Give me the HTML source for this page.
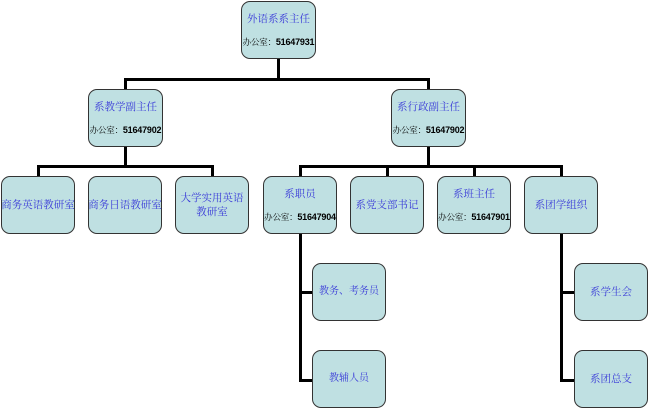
<!DOCTYPE html><html><head><meta charset="utf-8"><style>
body{margin:0;width:650px;height:410px;background:#fff;position:relative;overflow:hidden;font-family:"Liberation Sans","Noto Serif CJK SC",serif}
.b{position:absolute;width:72px;height:56px;background:#bfe0e2;border:1.5px solid #333;border-radius:9px;display:flex;flex-direction:column;justify-content:center;align-items:center;text-align:center;color:#3838d8;font-size:10.5px;line-height:14px;box-sizing:border-box;white-space:nowrap;overflow:visible}
.b .o{color:#000;font-size:8.5px;margin-top:9px;white-space:nowrap;letter-spacing:-0.2px}
.b .o b{font-family:"Liberation Sans",sans-serif;font-size:9px}
.l{position:absolute;background:#000}
</style></head><body>
<div class="l" style="left:277px;top:58px;width:2.5px;height:22px"></div>
<div class="l" style="left:124px;top:78px;width:306px;height:2.5px"></div>
<div class="l" style="left:124px;top:78px;width:2.5px;height:12px"></div>
<div class="l" style="left:427px;top:78px;width:2.5px;height:12px"></div>
<div class="l" style="left:124px;top:146px;width:2.5px;height:21px"></div>
<div class="l" style="left:37px;top:165px;width:176px;height:2.5px"></div>
<div class="l" style="left:37px;top:165px;width:2.5px;height:12px"></div>
<div class="l" style="left:211px;top:165px;width:2.5px;height:12px"></div>
<div class="l" style="left:427px;top:146px;width:2.5px;height:21px"></div>
<div class="l" style="left:299px;top:165px;width:264px;height:2.5px"></div>
<div class="l" style="left:299px;top:165px;width:2.5px;height:12px"></div>
<div class="l" style="left:386px;top:165px;width:2.5px;height:12px"></div>
<div class="l" style="left:473px;top:165px;width:2.5px;height:12px"></div>
<div class="l" style="left:560px;top:165px;width:2.5px;height:12px"></div>
<div class="l" style="left:299px;top:233px;width:2.5px;height:149px"></div>
<div class="l" style="left:299px;top:291px;width:14px;height:2.5px"></div>
<div class="l" style="left:299px;top:379px;width:14px;height:2.5px"></div>
<div class="l" style="left:560px;top:233px;width:2.5px;height:149px"></div>
<div class="l" style="left:560px;top:291px;width:14px;height:2.5px"></div>
<div class="l" style="left:560px;top:379px;width:14px;height:2.5px"></div>

<div class="b" style="left:241px;top:1px;width:75px;height:58px">外语系系主任<div class="o">办公室：<b>51647931</b></div></div>
<div class="b" style="left:88px;top:89px;width:75px;height:58px">系教学副主任<div class="o">办公室：<b>51647902</b></div></div>
<div class="b" style="left:391px;top:89px;width:75px;height:58px">系行政副主任<div class="o">办公室：<b>51647902</b></div></div>
<div class="b" style="left:1px;top:176px;width:74px;height:58px">商务英语教研室</div>
<div class="b" style="left:88px;top:176px;width:74px;height:58px">商务日语教研室</div>
<div class="b" style="left:175px;top:176px;width:74px;height:58px">大学实用英语<br>教研室</div>
<div class="b" style="left:263px;top:176px;width:74px;height:58px">系职员<div class="o">办公室：<b>51647904</b></div></div>
<div class="b" style="left:350px;top:176px;width:74px;height:58px">系党支部书记</div>
<div class="b" style="left:437px;top:176px;width:74px;height:58px">系班主任<div class="o">办公室：<b>51647901</b></div></div>
<div class="b" style="left:524px;top:176px;width:74px;height:58px">系团学组织</div>
<div class="b" style="left:312px;top:263px;width:74px;height:58px;font-size:10px">教务、考务员</div>
<div class="b" style="left:312px;top:350px;width:74px;height:58px;font-size:10px">教辅人员</div>
<div class="b" style="left:574px;top:263px;width:74px;height:58px">系学生会</div>
<div class="b" style="left:574px;top:350px;width:74px;height:58px">系团总支</div>
</body></html>
